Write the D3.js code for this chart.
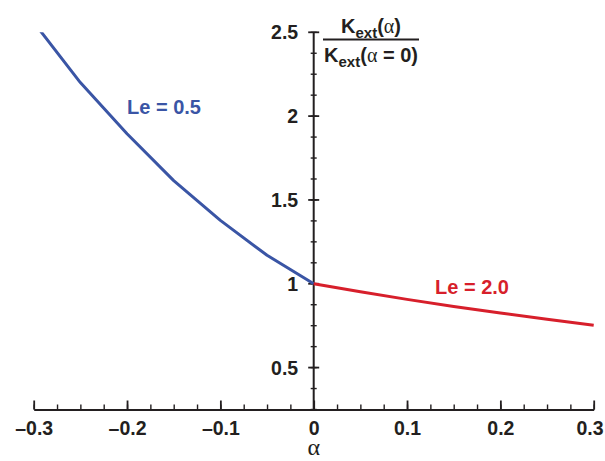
<!DOCTYPE html>
<html>
<head>
<meta charset="utf-8">
<script src="https://cdn.jsdelivr.net/npm/d3@7"></script>
<style>
	body{ margin:0; background:#fff; }
	svg text{ font-family:"Liberation Sans", Arial, sans-serif; font-weight:bold; fill:#231f20; }
	.greek{ font-family:"Liberation Serif", "Times New Roman", serif; font-weight:normal; }
</style>
</head>
<body>
<svg id="svg" width="605" height="461"></svg>
<script>
// Le = 0.5 branch (alpha < 0)
var alphaLow = [-0.3, -0.25, -0.2, -0.15, -0.1, -0.05, 0];
var kLow = [2.56, 2.20, 1.895, 1.615, 1.378, 1.17, 1.0];
// Le = 2.0 branch (alpha > 0)
var alphaHigh = [0, 0.05, 0.1, 0.15, 0.2, 0.25, 0.3];
var kHigh = [1.0, 0.952, 0.907, 0.865, 0.826, 0.789, 0.753];

var xMajor = [-0.3, -0.2, -0.1, 0, 0.1, 0.2, 0.3];
var yMajor = [0.5, 1, 1.5, 2, 2.5];

var ink = "#231f20";
var blue = "#3a55a5";
var red = "#d71f2b";

var svg = d3.select("#svg");
var x = d3.scaleLinear().domain([-0.3, 0.3]).range([33.7, 593.7]);
var y = d3.scaleLinear().domain([0.25, 2.5]).range([409.5, 32.3]);

svg.append("clipPath").attr("id", "plot-clip")
	.append("rect").attr("x", x(-0.3) - 5).attr("y", y(2.5)).attr("width", x(0.3) - x(-0.3) + 10).attr("height", y(0.25) - y(2.5));

// x axis, ticks pointing up
var xMinor = d3.range(-12, 13).map(function(i){ return i * 0.025; });
svg.append("g").attr("transform", "translate(0," + y(0.25) + ")")
	.call(d3.axisBottom(x).tickValues(xMinor).tickSize(-5).tickFormat(""))
	.call(function(g){ g.select(".domain").remove(); g.selectAll("line").attr("stroke", ink).attr("stroke-width", 1.4); });
var xAxis = svg.append("g").attr("transform", "translate(0," + y(0.25) + ")")
	.call(d3.axisBottom(x).tickValues(xMajor).tickSize(-9).tickSizeOuter(0).tickPadding(12)
		.tickFormat(function(d){ return d === 0 ? "0" : d3.format(".1f")(d).replace("\u2212", "\u2013").replace("-", "\u2013"); }));
xAxis.select(".domain").attr("stroke", ink).attr("stroke-width", 2);
xAxis.selectAll("line").attr("stroke", ink).attr("stroke-width", 1.8);
xAxis.selectAll("text").attr("font-size", 19.5).attr("fill", ink).attr("font-family", null);
// last label pulled in so it stays inside the picture
xAxis.selectAll("text").filter(function(d){ return d === 0.3; }).attr("text-anchor", "end").attr("x", 603 - x(0.3));

// y axis, ticks crossing the line
var yMinor = d3.range(2, 21).map(function(i){ return i * 0.125; });
var yAxis = svg.append("g");
yAxis.append("line").attr("x1", x(0)).attr("x2", x(0)).attr("y1", y(2.5)).attr("y2", y(0.25))
	.attr("stroke", ink).attr("stroke-width", 2);
yAxis.selectAll("line.minor").data(yMinor).enter().append("line").attr("class", "minor")
	.attr("x1", x(0) - 3).attr("x2", x(0) + 3).attr("y1", function(d){ return y(d); }).attr("y2", function(d){ return y(d); })
	.attr("stroke", ink).attr("stroke-width", 1.4);
yAxis.selectAll("line.major").data(yMajor).enter().append("line").attr("class", "major")
	.attr("x1", x(0) - 5.5).attr("x2", x(0) + 5.5).attr("y1", function(d){ return y(d); }).attr("y2", function(d){ return y(d); })
	.attr("stroke", ink).attr("stroke-width", 1.8);
yAxis.selectAll("text").data(yMajor).enter().append("text")
	.attr("x", x(0) - 15.5).attr("y", function(d){ return y(d); }).attr("dy", "0.36em")
	.attr("text-anchor", "end").attr("font-size", 19.5)
	.text(function(d){ return d3.format("~g")(d); });

// curves
var line = d3.line().x(function(d){ return x(d[0]); }).y(function(d){ return y(d[1]); });
svg.append("path").datum(d3.zip(alphaLow, kLow)).attr("d", line).attr("clip-path", "url(#plot-clip)")
	.attr("fill", "none").attr("stroke", blue).attr("stroke-width", 3).attr("stroke-linejoin", "round");
svg.append("path").datum(d3.zip(alphaHigh, kHigh)).attr("d", line)
	.attr("fill", "none").attr("stroke", red).attr("stroke-width", 3).attr("stroke-linejoin", "round");

svg.append("text").attr("x", 127).attr("y", 114).attr("font-size", 20).style("fill", blue).text("Le = 0.5");
svg.append("text").attr("x", 435).attr("y", 294).attr("font-size", 20).style("fill", red).text("Le = 2.0");

// y label as a fraction
var frac = svg.append("g").attr("transform", "translate(371,0)");
var num = frac.append("text").attr("y", 33).attr("text-anchor", "middle").attr("font-size", 20);
num.append("tspan").text("K");
num.append("tspan").attr("font-size", 15).attr("dy", 5).text("ext");
num.append("tspan").attr("dy", -5).text("(");
num.append("tspan").attr("class", "greek").text("\u03b1");
num.append("tspan").text(")");
frac.append("line").attr("x1", -48).attr("x2", 48).attr("y1", 39.5).attr("y2", 39.5).attr("stroke", ink).attr("stroke-width", 2);
var den = frac.append("text").attr("y", 62).attr("text-anchor", "middle").attr("font-size", 20);
den.append("tspan").text("K");
den.append("tspan").attr("font-size", 15).attr("dy", 5).text("ext");
den.append("tspan").attr("dy", -5).text("(");
den.append("tspan").attr("class", "greek").text("\u03b1");
den.append("tspan").text(" = 0)");

svg.append("text").attr("class", "greek").attr("x", x(0)).attr("y", 455).attr("text-anchor", "middle")
	.attr("font-size", 24).text("\u03b1");
</script>
</body>
</html>
